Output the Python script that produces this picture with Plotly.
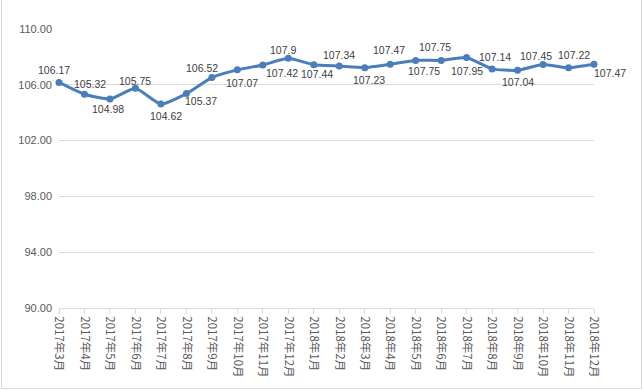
import plotly.graph_objects as go

categories = ["2017年3月", "2017年4月", "2017年5月", "2017年6月", "2017年7月", "2017年8月",
              "2017年9月", "2017年10月", "2017年11月", "2017年12月", "2018年1月", "2018年2月",
              "2018年3月", "2018年4月", "2018年5月", "2018年6月", "2018年7月", "2018年8月",
              "2018年9月", "2018年10月", "2018年11月", "2018年12月"]
values = [106.17, 105.32, 104.98, 105.75, 104.62, 105.37, 106.52, 107.07, 107.42, 107.9,
          107.44, 107.34, 107.23, 107.47, 107.75, 107.75, 107.95, 107.14, 107.04, 107.45,
          107.22, 107.47]
value_labels = ["106.17", "105.32", "104.98", "105.75", "104.62", "105.37", "106.52", "107.07",
                "107.42", "107.9", "107.44", "107.34", "107.23", "107.47", "107.75", "107.75",
                "107.95", "107.14", "107.04", "107.45", "107.22", "107.47"]
y_ticks = [90, 94, 98, 102, 106, 110]

# label offsets in pixels (dx right, dy down) relative to each point
label_dx = [-5, 6, -2, 0, 5, 15, -10, 5, 19, -5, 3, 0, 4, -1, 8, -6, 0, 3, 0, -7, 5, 16]
label_dy = [-12, -10, 10, -7, 12, 7, -10, 13, 8, -8, 9, -11, 12, -14, 11, -13, 13, -12, 12, -9, -13, 9]

W, H = 643, 390
ml, mr, mt, mb = 59, 49, 29, 82
pw, ph = W - ml - mr, H - mt - mb

def px_x(p):
    return (p - ml) / pw

def px_y(p):
    return (H - mb - p) / ph

LINE = "#4A7EBB"
fig = go.Figure()
fig.add_trace(go.Scatter(
    x=list(range(len(categories))), y=values,
    mode="lines+markers",
    line=dict(color=LINE, width=3, shape="spline", smoothing=0.5),
    marker=dict(color=LINE, size=7),
    cliponaxis=False, showlegend=False, hoverinfo="x+y",
))

annotations = []
for i, (v, t) in enumerate(zip(values, value_labels)):
    annotations.append(dict(
        x=i, y=v, xref="x", yref="y", text=t, showarrow=False,
        xanchor="center", yanchor="middle",
        xshift=label_dx[i], yshift=-label_dy[i],
        font=dict(family="Liberation Sans, Arial, sans-serif", size=10.5, color="#404040"),
    ))

border = dict(color="#D9D9D9", width=1)
shapes = [
    dict(type="line", xref="paper", yref="paper", x0=px_x(1.5), x1=px_x(1.5), y0=px_y(-2), y1=px_y(388.5), line=border),
    dict(type="line", xref="paper", yref="paper", x0=px_x(641.5), x1=px_x(641.5), y0=px_y(-2), y1=px_y(388.5), line=border),
    dict(type="line", xref="paper", yref="paper", x0=px_x(1.5), x1=px_x(641.5), y0=px_y(388.5), y1=px_y(388.5), line=border),
]

fig.update_layout(
    width=W, height=H,
    margin=dict(l=ml, r=mr, t=mt, b=mb, autoexpand=False),
    paper_bgcolor="white", plot_bgcolor="white",
    font=dict(family="Noto Sans CJK SC, Noto Sans, sans-serif", color="#595959"),
    xaxis=dict(
        range=[0, len(categories) - 1], automargin=False,
        tickmode="array", tickvals=list(range(len(categories))), ticktext=categories,
        tickangle=90, tickfont=dict(family="Noto Sans CJK SC, sans-serif", size=11.5, color="#595959"),
        showgrid=False, zeroline=False,
        showline=True, linecolor="#D9D9D9", linewidth=1,
        ticks="outside", ticklen=5, tickcolor="#D9D9D9",
    ),
    yaxis=dict(
        range=[90, 110], automargin=False, tickmode="array", tickvals=y_ticks,
        ticktext=[f"{v:.2f}" for v in y_ticks],
        tickfont=dict(family="Liberation Sans, Arial, sans-serif", size=11, color="#595959"),
        showgrid=True, gridcolor="#D9D9D9", gridwidth=1,
        zeroline=False, showline=False, ticks="", ticklabelstandoff=6,
    ),
    annotations=annotations,
    shapes=shapes,
)

fig.write_html(
    "out.html",
    config={"displayModeBar": False},
    post_script="document.body.style.margin='0';document.body.style.overflow='hidden';",
)
